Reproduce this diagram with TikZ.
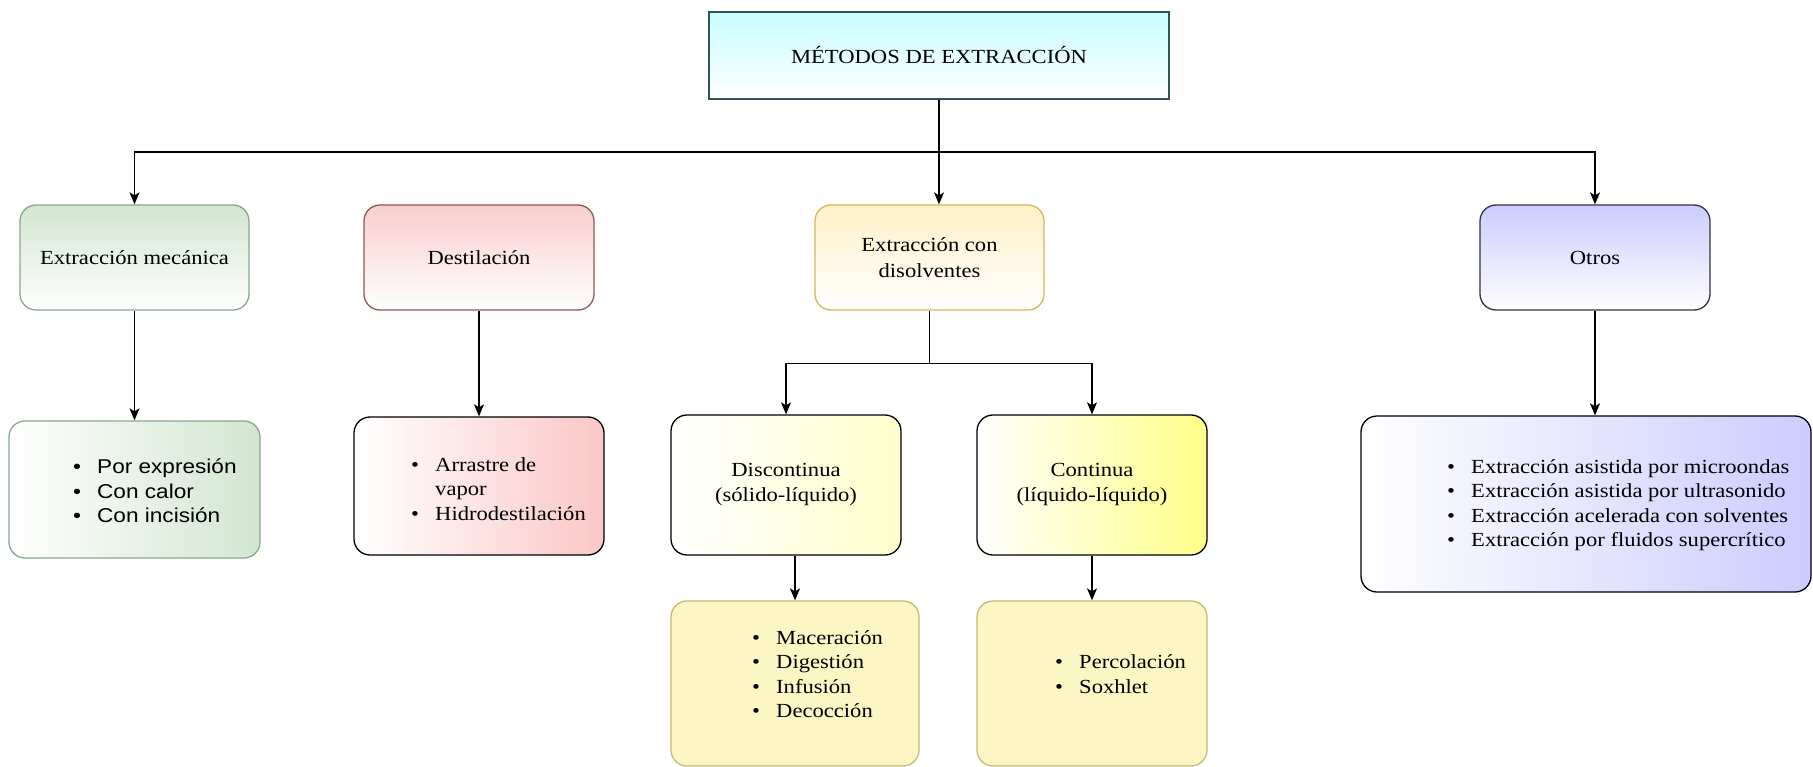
\documentclass[tikz,border=0pt]{standalone}
\usepackage{fontspec}
\setmainfont{Liberation Serif}[FakeStretch=1.13]
\setsansfont{Liberation Sans}[FakeStretch=1.13]
\usetikzlibrary{arrows.meta,calc}
\definecolor{topc}{HTML}{C8FCFF}
\definecolor{topb}{HTML}{2F5556}
\definecolor{grn}{HTML}{D2E6D0}
\definecolor{grnb}{HTML}{8AA88A}
\definecolor{pnk}{HTML}{F8CECC}
\definecolor{pnkb}{HTML}{8A5A58}
\definecolor{ylw}{HTML}{FFF0C8}
\definecolor{ylwb}{HTML}{D6B656}
\definecolor{lav}{HTML}{CCCCFF}
\definecolor{lavb}{HTML}{333344}
\definecolor{pyl}{HTML}{FFFFCC}
\definecolor{syl}{HTML}{FFFF88}
\definecolor{lyl}{HTML}{FCF6C4}
\definecolor{lylb}{HTML}{C8B878}
\newcommand{\bul}{\makebox[24pt][l]{\textbullet}}
\begin{document}
\begin{tikzpicture}[x=1pt,y=-1pt,
  box/.style={draw, line width=1.3pt, rounded corners=16pt, inner sep=0pt, align=center,
    font=\fontsize{20}{25}\selectfont},
  arr/.style={line width=1.4pt, -{Stealth[length=12pt,width=10pt,inset=3pt]}},
  lst/.style={anchor=west, inner sep=0pt, align=left, font=\fontsize{20}{24.5}\selectfont},
]
\useasboundingbox (0,0) rectangle (1813,767);
% level 0
\node[box, rounded corners=0pt, draw=topb, top color=topc, bottom color=white,
  minimum width=460pt, minimum height=87pt] (top) at (939,55.5) {MÉTODOS DE EXTRACCIÓN};
% level 1
\node[box, draw=grnb, top color=grn, bottom color=white, minimum width=229pt, minimum height=105pt]
  (mec) at (134.5,257.5) {Extracción mecánica};
\node[box, draw=pnkb, top color=pnk, bottom color=white, minimum width=230pt, minimum height=105pt]
  (des) at (479,257.5) {Destilación};
\node[box, draw=ylwb, top color=ylw, bottom color=white, minimum width=229pt, minimum height=105pt]
  (dis) at (929.5,257.5) {Extracción con\\[1pt]disolventes};
\node[box, draw=lavb, top color=lav, bottom color=white, minimum width=230pt, minimum height=105pt]
  (otr) at (1595,257.5) {Otros};
% level 2
\node[box, draw=grnb, left color=white, right color=grn, minimum width=251pt, minimum height=137pt]
  (l1) at (134.5,489.5) {};
\node[box, draw=black, left color=white, right color=pnk!90!red!80, minimum width=250pt, minimum height=138pt]
  (l2) at (479,486) {};
\node[box, draw=black, left color=white, right color=pyl, minimum width=230pt, minimum height=140pt]
  (dc) at (786,485) {Discontinua\\(sólido-líquido)};
\node[box, draw=black, left color=white, right color=syl, minimum width=230pt, minimum height=140pt]
  (co) at (1092,485) {Continua\\(líquido-líquido)};
\node[box, draw=black, left color=white, right color=lav, minimum width=450pt, minimum height=176pt]
  (l5) at (1586,504) {};
% level 3
\node[box, draw=lylb, fill=lyl, minimum width=248pt, minimum height=165pt] (l3) at (795,683.5) {};
\node[box, draw=lylb, fill=lyl, minimum width=230pt, minimum height=165pt] (l4) at (1092,683.5) {};
% list texts
\node[lst, font=\sffamily\fontsize{20}{24.5}\selectfont] (l1t) at (73,491)
  {\bul Por expresión\\\bul Con calor\\\bul Con incisión};
\node[lst] (l2t) at (411,489) {\bul Arrastre de\\\hspace*{24pt}vapor\\\bul Hidrodestilación};
\node[lst] (l3t) at (752,674) {\bul Maceración\\\bul Digestión\\\bul Infusión\\\bul Decocción};
\node[lst] (l4t) at (1055,674) {\bul Percolación\\\bul Soxhlet};
\node[lst] (l5t) at (1447,505) {\bul Extracción asistida por microondas\\\bul Extracción asistida por ultrasonido\\\bul Extracción acelerada con solventes\\\bul Extracción por fluidos supercrítico};
% connectors
\coordinate (hb) at (939,152);
\draw[arr] (top.south) -- (top.south |- dis.north);
\draw[arr] (top.south |- hb) -| (mec.north);
\draw[arr] (top.south |- hb) -| (otr.north);
\draw[arr] (mec.south) -- (l1.north);
\draw[arr] (des.south) -- (l2.north);
\draw[arr] (dis.south) -- ++(0,53) -| (dc.north);
\draw[arr] (dis.south) -- ++(0,53) -| (co.north);
\draw[arr] (l3.north |- dc.south) -- (l3.north);
\draw[arr] (co.south) -- (l4.north);
\draw[arr] (otr.south) -- (otr.south |- l5.north);
\end{tikzpicture}
\end{document}
